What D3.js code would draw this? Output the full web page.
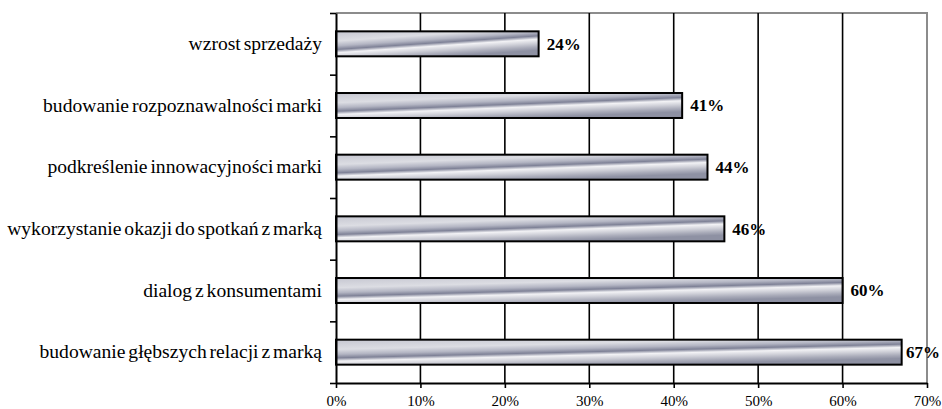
<!DOCTYPE html>
<html>
<head>
<meta charset="utf-8">
<script src="https://cdn.jsdelivr.net/npm/d3@7"></script>
<style>
  html, body { margin: 0; padding: 0; background: #fff; }
  svg { display: block; }
</style>
</head>
<body>
<svg id="chart" width="942" height="409"></svg>
<script>
// Categories listed top to bottom, with their shares
const categories = [
  "wzrost sprzedaży",
  "budowanie rozpoznawalności marki",
  "podkreślenie innowacyjności marki",
  "wykorzystanie okazji do spotkań z marką",
  "dialog z konsumentami",
  "budowanie głębszych relacji z marką"
];
const values = [0.24, 0.41, 0.44, 0.46, 0.60, 0.67];
const valueLabels = ["24%", "41%", "44%", "46%", "60%", "67%"];
const xTicks = [0, 0.1, 0.2, 0.3, 0.4, 0.5, 0.6, 0.7];
const xTickLabels = ["0%", "10%", "20%", "30%", "40%", "50%", "60%", "70%"];

const SERIF = "'Liberation Serif', 'Times New Roman', serif";
const WIDTH = 942;

const svg = d3.select("#chart");
const plot = { left: 336, right: 927, top: 13, bottom: 383 };

const x = d3.scaleLinear().domain([0, 0.7]).range([plot.left, plot.right]);
const y = d3.scaleBand()
  .domain(categories)
  .range([plot.top, plot.bottom])
  .paddingInner(0.595)
  .paddingOuter(0.2975);
// boundaries between category rows, for the small left ticks
const yEdge = d3.scaleLinear().domain([0, categories.length]).range([plot.top, plot.bottom]);

// metallic fill: a diagonal dark/light streak across each bar's own box
const defs = svg.append("defs");
const grad = defs.append("linearGradient")
  .attr("id", "metal")
  .attr("gradientUnits", "objectBoundingBox")
  .attr("x1", 0).attr("y1", 0).attr("x2", 0.55).attr("y2", 1);
[
  [0.00, "#c6c7d1"],
  [0.30, "#dcdde3"],
  [0.45, "#b3b5c3"],
  [0.56, "#7f8297"],
  [0.66, "#f2f2f5"],
  [0.78, "#cfd0d8"],
  [0.90, "#a9abb9"],
  [1.00, "#8e91a3"]
].forEach(([o, c]) => grad.append("stop").attr("offset", o).attr("stop-color", c));

// grey top and right frame
svg.append("path")
  .attr("d", `M${plot.left},${plot.top}H${plot.right}V${plot.bottom}`)
  .attr("fill", "none")
  .attr("stroke", "#8c8c8c")
  .attr("stroke-width", 2);

// vertical gridlines
svg.append("g")
  .selectAll("line")
  .data(xTicks.slice(1, -1))
  .join("line")
  .attr("x1", d => x(d)).attr("x2", d => x(d))
  .attr("y1", plot.top).attr("y2", plot.bottom)
  .attr("stroke", "#000")
  .attr("stroke-width", 1.6);

// bars
svg.append("g")
  .selectAll("rect")
  .data(categories)
  .join("rect")
  .attr("x", x(0))
  .attr("y", d => y(d))
  .attr("width", (d, i) => x(values[i]) - x(0))
  .attr("height", y.bandwidth())
  .attr("fill", "url(#metal)")
  .attr("stroke", "#000")
  .attr("stroke-width", 2);

// value labels, pulled left where they would run past the edge
svg.append("g")
  .selectAll("text")
  .data(categories)
  .join("text")
  .attr("x", (d, i) => x(values[i]) + 8)
  .attr("y", d => y(d) + y.bandwidth() / 2)
  .attr("dy", "0.35em")
  .style("font-family", SERIF)
  .style("font-size", "17px")
  .style("font-weight", "bold")
  .style("fill", "#000")
  .text((d, i) => valueLabels[i])
  .each(function (d, i) {
    const w = this.getComputedTextLength();
    const start = Math.min(x(values[i]) + 8, WIDTH - 2 - w);
    d3.select(this).attr("x", Math.max(start, x(values[i]) + 3));
  });

// x axis
const xAxis = svg.append("g")
  .attr("transform", `translate(0,${plot.bottom})`)
  .call(d3.axisBottom(x)
    .tickValues(xTicks)
    .tickFormat((d, i) => xTickLabels[i])
    .tickSizeInner(5)
    .tickSizeOuter(0)
    .tickPadding(7));
xAxis.select(".domain").attr("stroke", "#000").attr("stroke-width", 2);
xAxis.selectAll(".tick line").attr("stroke", "#000").attr("stroke-width", 1.6);
xAxis.selectAll(".tick text")
  .style("font-family", SERIF)
  .style("font-size", "15px")
  .style("fill", "#000");

// y axis line with separator ticks
const yAxis = svg.append("g")
  .attr("transform", `translate(${plot.left},0)`)
  .call(d3.axisLeft(yEdge)
    .tickValues(d3.range(categories.length + 1))
    .tickFormat("")
    .tickSizeInner(6)
    .tickSizeOuter(0));
yAxis.select(".domain").attr("stroke", "#000").attr("stroke-width", 2);
yAxis.selectAll(".tick line").attr("stroke", "#000").attr("stroke-width", 1.6);

// category labels
const yLabels = svg.append("g")
  .attr("transform", `translate(${plot.left},0)`)
  .call(d3.axisLeft(y).tickSize(0).tickPadding(14));
yLabels.select(".domain").remove();
yLabels.selectAll(".tick text")
  .style("font-family", SERIF)
  .style("font-size", "19.6px")
  .style("word-spacing", "-2px")
  .style("fill", "#000");
</script>
</body>
</html>
